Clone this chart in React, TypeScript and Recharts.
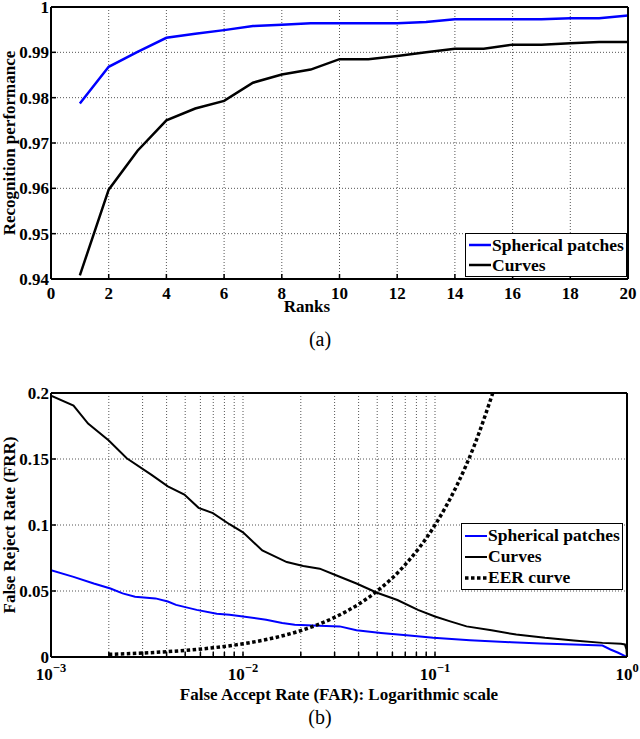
import React from "react";
import {
  CartesianGrid,
  Legend,
  Line,
  LineChart,
  XAxis,
  YAxis,
} from "recharts";

const FONT = '"Liberation Serif", "Times New Roman", Times, serif';

// (a) recognition vs rank
const ranks = [1, 2, 3, 4, 5, 6, 7, 8, 9, 10, 11, 12, 13, 14, 15, 16, 17, 18, 19, 20];
const sphericalRank = [
  0.9787, 0.9868, 0.9901, 0.9932, 0.9941, 0.9949, 0.9958, 0.9961, 0.9964, 0.9964,
  0.9964, 0.9964, 0.9967, 0.9973, 0.9973, 0.9973, 0.9973, 0.9975, 0.9975, 0.9981,
];
const curvesRank = [
  0.9408, 0.9597, 0.9683, 0.975, 0.9776, 0.9793, 0.9833, 0.9851, 0.9862, 0.9885,
  0.9885, 0.9892, 0.99, 0.9908, 0.9908, 0.9917, 0.9917, 0.992, 0.9923, 0.9923,
];
const rankTicks = [0, 2, 4, 6, 8, 10, 12, 14, 16, 18, 20];
const perfTicks = [0.94, 0.95, 0.96, 0.97, 0.98, 0.99, 1];

// (b) FRR vs FAR (log)
const curvesFar = [
  0.001, 0.00131, 0.00156, 0.002, 0.00248, 0.00334, 0.00406, 0.00495, 0.00587, 0.00697,
  0.0085, 0.01, 0.0126, 0.0169, 0.0206, 0.0251, 0.0305, 0.039, 0.0499, 0.0637, 0.0815,
  0.1, 0.12, 0.146, 0.197, 0.265, 0.374, 0.528, 0.745, 0.93, 0.975, 0.993, 1,
];
const curvesFrr = [
  0.198, 0.1905, 0.1768, 0.164, 0.1506, 0.138, 0.1293, 0.123, 0.113, 0.109,
  0.1006, 0.0944, 0.0807, 0.0719, 0.0689, 0.0669, 0.0619, 0.0557, 0.0487, 0.0432, 0.0357,
  0.0307, 0.027, 0.0232, 0.0202, 0.017, 0.0145, 0.0125, 0.0107, 0.01, 0.0095, 0.006, 0,
];
const sphericalFar = [
  0.001, 0.00131, 0.00167, 0.00204, 0.00236, 0.00274, 0.0035, 0.00406, 0.00448, 0.00574,
  0.0073, 0.0085, 0.01, 0.0132, 0.016, 0.0186, 0.025, 0.0319, 0.039, 0.0523, 0.0735,
  0.098, 0.152, 0.25, 0.356, 0.528, 0.745, 0.82, 0.9, 1,
];
const sphericalFrr = [
  0.0657, 0.0607, 0.0557, 0.0519, 0.0482, 0.0457, 0.0444, 0.042, 0.0395, 0.0357,
  0.0327, 0.032, 0.0307, 0.0282, 0.0257, 0.0245, 0.0237, 0.0232, 0.0202, 0.0182, 0.0162,
  0.0145, 0.0127, 0.0112, 0.0102, 0.0095, 0.0087, 0.0057, 0.0032, 0,
];
const eerFar = [0.002, 0.003, 0.004, 0.005, 0.007, 0.01, 0.015, 0.02, 0.03, 0.04, 0.05, 0.07, 0.1, 0.13, 0.16, 0.2];
const eerFrr = [0.002, 0.003, 0.004, 0.005, 0.007, 0.01, 0.015, 0.02, 0.03, 0.04, 0.05, 0.07, 0.1, 0.13, 0.16, 0.2];
const farTicks = [
  0.001, 0.002, 0.003, 0.004, 0.005, 0.006, 0.007, 0.008, 0.009,
  0.01, 0.02, 0.03, 0.04, 0.05, 0.06, 0.07, 0.08, 0.09, 0.1, 1,
];
const farExponents: Record<string, string> = { "0.001": "\u22123", "0.01": "\u22122", "0.1": "\u22121", "1": "0" };
const frrTicks = [0, 0.05, 0.1, 0.15, 0.2];

const rankData = ranks.map((r, i) => ({ rank: r, spherical: sphericalRank[i], curves: curvesRank[i] }));
const toPts = (xs: number[], ys: number[]) => xs.map((x, i) => ({ far: x, frr: ys[i] }));
const curvesData = toPts(curvesFar, curvesFrr);
const sphericalData = toPts(sphericalFar, sphericalFrr);
const eerData = toPts(eerFar, eerFrr);

const tickStyle = { fontFamily: FONT, fontWeight: "bold", fontSize: 17, fill: "#000" };
const gridProps = { stroke: "#555", strokeDasharray: "1 2" };
const axisLine = { stroke: "#000", strokeWidth: 2 };
const tickLine = { stroke: "#000", strokeWidth: 1.5 };

type LegendItem = { name: string; color: string; dash?: string; width: number };

const legendA: LegendItem[] = [
  { name: "Spherical patches", color: "#0000ff", width: 2.5 },
  { name: "Curves", color: "#000", width: 2.5 },
];
const legendB: LegendItem[] = [
  { name: "Spherical patches", color: "#0000ff", width: 2 },
  { name: "Curves", color: "#000", width: 2 },
  { name: "EER curve", color: "#000", dash: "3.5 2.5", width: 3.5 },
];

const LegendBox = ({ items, rowH }: { items: LegendItem[]; rowH: number }) => (
  <div
    style={{
      border: "1px solid #000",
      background: "#fff",
      padding: "1px 0 1px 3px",
      fontFamily: FONT,
      fontWeight: "bold",
      fontSize: 17.5,
      color: "#000",
      boxSizing: "border-box",
      width: 162,
      overflow: "hidden",
    }}
  >
    {items.map((it) => (
      <div key={it.name} style={{ display: "flex", alignItems: "center", height: rowH }}>
        <svg width={22} height={6} style={{ flex: "none" }}>
          <line x1={0} y1={3} x2={22} y2={3} stroke={it.color} strokeWidth={it.width} strokeDasharray={it.dash} />
        </svg>
        <span style={{ marginLeft: 1, whiteSpace: "nowrap" }}>{it.name}</span>
      </div>
    ))}
  </div>
);

const LogTick = (props: any) => {
  const { x, y, payload } = props;
  const exp = farExponents[String(payload.value)];
  if (!exp) return null;
  return (
    <text x={x} y={y + 10} textAnchor="middle" fontFamily={FONT} fontWeight="bold" fontSize={17} fill="#000">
      10
      <tspan dy={-8} fontSize={12.5}>
        {exp}
      </tspan>
    </text>
  );
};

const yTitle = (label: string) => (props: any) => {
  const vb = props.viewBox;
  const cy = vb.y + vb.height / 2;
  return (
    <text
      x={15}
      y={cy}
      transform={`rotate(-90, 15, ${cy})`}
      textAnchor="middle"
      fontFamily={FONT}
      fontWeight="bold"
      fontSize={17}
      fill="#000"
    >
      {label}
    </text>
  );
};

const xTitle = (label: string, dy: number, cx?: number) => (props: any) => {
  const vb = props.viewBox;
  return (
    <text
      x={cx ?? vb.x + vb.width / 2}
      y={vb.y + dy}
      textAnchor="middle"
      fontFamily={FONT}
      fontWeight="bold"
      fontSize={17}
      fill="#000"
    >
      {label}
    </text>
  );
};

export default function App() {
  return (
    <div style={{ position: "absolute", left: 0, top: 0, width: 640, height: 739, background: "#fff", overflow: "hidden" }}>
      <div style={{ position: "absolute", left: 0, top: 0 }}>
        <LineChart width={640} height={320} data={rankData} margin={{ top: 7, right: 12, bottom: 0, left: 0 }}>
          <CartesianGrid {...gridProps} />
          <XAxis
            dataKey="rank"
            type="number"
            domain={[0, 20]}
            ticks={rankTicks}
            interval={0}
            height={41}
            tick={tickStyle}
            tickSize={-5}
            tickMargin={13}
            axisLine={axisLine}
            tickLine={tickLine}
            label={xTitle("Ranks", 33, 307)}
          />
          <XAxis xAxisId="top" orientation="top" mirror type="number" domain={[0, 20]} ticks={rankTicks} tick={false} tickSize={5} axisLine={axisLine} tickLine={tickLine} allowDataOverflow />
          <YAxis
            type="number"
            domain={[0.94, 1]}
            ticks={perfTicks}
            interval={0}
            width={51}
            tick={tickStyle}
            tickSize={-5}
            tickMargin={7}
            axisLine={axisLine}
            tickLine={tickLine}
            tickFormatter={(v: number) => (v === 1 ? "1" : v.toFixed(2))}
            allowDataOverflow
            label={yTitle("Recognition performance")}
          />
          <YAxis yAxisId="right" orientation="right" mirror type="number" domain={[0.94, 1]} ticks={perfTicks} tick={false} tickSize={5} axisLine={axisLine} tickLine={tickLine} allowDataOverflow />
          <Line dataKey="spherical" type="linear" stroke="#0000ff" strokeWidth={2.5} dot={false} isAnimationActive={false} />
          <Line dataKey="curves" type="linear" stroke="#000" strokeWidth={2.5} dot={false} isAnimationActive={false} />
          <Legend
            layout="vertical"
            align="center"
            verticalAlign="middle"
            wrapperStyle={{ left: 465, top: 233, width: 162 }}
            content={() => <LegendBox items={legendA} rowH={20} />}
          />
        </LineChart>
      </div>
      <div style={{ position: "absolute", left: 0, top: 328, width: 640, textAlign: "center", fontFamily: FONT, fontSize: 20 }}>
        (a)
      </div>

      <div style={{ position: "absolute", left: 0, top: 370 }}>
        <LineChart width={640} height={369} margin={{ top: 23, right: 13, bottom: 0, left: 0 }}>
          <CartesianGrid {...gridProps} />
          <XAxis
            dataKey="far"
            type="number"
            scale="log"
            domain={[0.001, 1]}
            ticks={farTicks}
            interval={0}
            height={82}
            tick={<LogTick />}
            tickSize={-5}
            tickMargin={18}
            axisLine={axisLine}
            tickLine={tickLine}
            allowDataOverflow
            label={xTitle("False Accept Rate (FAR): Logarithmic scale", 43)}
          />
          <XAxis xAxisId="top" orientation="top" mirror type="number" scale="log" domain={[0.001, 1]} ticks={farTicks} tick={false} tickSize={5} axisLine={axisLine} tickLine={tickLine} allowDataOverflow />
          <YAxis
            dataKey="frr"
            type="number"
            domain={[0, 0.2]}
            ticks={frrTicks}
            interval={0}
            width={51}
            tick={tickStyle}
            tickSize={-5}
            tickMargin={7}
            axisLine={axisLine}
            tickLine={tickLine}
            tickFormatter={(v: number) => String(v)}
            allowDataOverflow
            label={yTitle("False Reject Rate (FRR)")}
          />
          <YAxis yAxisId="right" orientation="right" mirror type="number" domain={[0, 0.2]} ticks={frrTicks} tick={false} tickSize={5} axisLine={axisLine} tickLine={tickLine} allowDataOverflow />
          <Line data={sphericalData} dataKey="frr" name="Spherical patches" type="linear" stroke="#0000ff" strokeWidth={2} dot={false} isAnimationActive={false} />
          <Line data={curvesData} dataKey="frr" name="Curves" type="linear" stroke="#000" strokeWidth={2} dot={false} isAnimationActive={false} />
          <Line data={eerData} dataKey="frr" name="EER curve" type="monotone" stroke="#000" strokeWidth={3.5} strokeDasharray="3.5 2.5" dot={false} isAnimationActive={false} />
          <Legend
            layout="vertical"
            align="center"
            verticalAlign="middle"
            wrapperStyle={{ left: 461, top: 153, width: 162 }}
            content={() => <LegendBox items={legendB} rowH={21} />}
          />
        </LineChart>
      </div>
      <div style={{ position: "absolute", left: 0, top: 706, width: 640, textAlign: "center", fontFamily: FONT, fontSize: 20 }}>
        (b)
      </div>
    </div>
  );
}
